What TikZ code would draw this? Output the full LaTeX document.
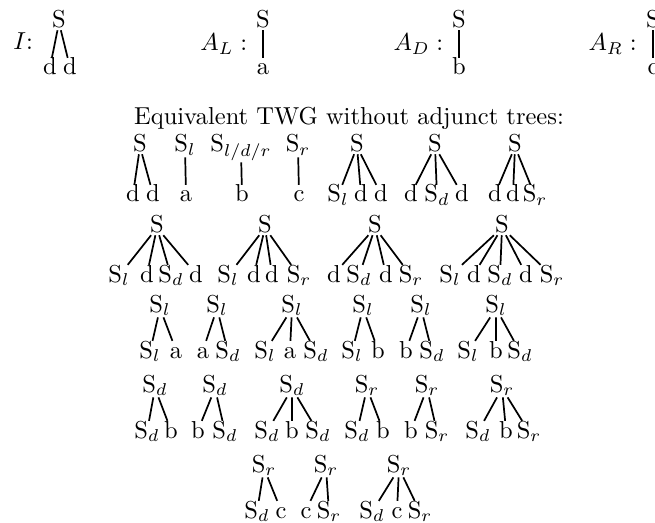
\documentclass[tikz,border=0pt]{standalone}
\begin{document}
\begin{tikzpicture}[x=0.408pt,y=-0.408pt,
  rt/.style={inner xsep=0.5pt,inner ysep=0.5pt,text height=4.5pt,anchor=base},
  tn/.style={inner xsep=0.5pt,inner ysep=0.3pt,text height=6.5pt,anchor=base},
  lab/.style={inner sep=0pt,anchor=base west},
  edge/.style={line width=0.7pt}]
\useasboundingbox (0,0) rectangle (655,522);
% top row: elementary trees
\node[lab] (labI) at (13,50) {$I$:};
\node[rt] (i0) at (59,28) {S};
\node[tn] (i1) at (50,75) {d};
\node[tn] (i2) at (70,75) {d};
\draw[edge] (i0) -- (i1) (i0) -- (i2);
\node[lab] (labAL) at (200,51) {$A_L:$};
\node[rt] (al0) at (263,28) {S};
\node[tn] (al1) at (263,75) {a};
\draw[edge] (al0) -- (al1);
\node[lab] (labAD) at (393,51) {$A_D:$};
\node[rt] (ad0) at (459,28) {S};
\node[tn] (ad1) at (459,75) {b};
\draw[edge] (ad0) -- (ad1);
\node[lab] (labAR) at (588,51) {$A_R:$};
\node[rt] (ar0) at (653,28) {S};
\node[tn] (ar1) at (653,75) {c};
\draw[edge] (ar0) -- (ar1);
% title
\node[anchor=base,inner sep=0pt] (title) at (349,125) {Equivalent TWG without adjunct trees:};
% row 1
\node[rt] (r1a) at (140,152) {S};
\node[tn] (r1a1) at (133,202) {d};
\node[tn] (r1a2) at (153,202) {d};
\draw[edge] (r1a) -- (r1a1) (r1a) -- (r1a2);
\node[rt] (r1b) at (185,152) {S$_l$};
\node[tn] (r1b1) at (186,202) {a};
\draw[edge] (r1b) -- (r1b1);
\node[rt] (r1c) at (241,152) {S$_{l/d/r}$};
\node[tn] (r1c1) at (242,202) {b};
\draw[edge] (r1c) -- (r1c1);
\node[rt] (r1d) at (298,152) {S$_r$};
\node[tn] (r1d1) at (299,202) {c};
\draw[edge] (r1d) -- (r1d1);
\node[rt] (r1e) at (357,152) {S};
\node[tn] (r1e1) at (338,202) {S$_l$};
\node[tn] (r1e2) at (361,202) {d};
\node[tn] (r1e3) at (381,202) {d};
\draw[edge] (r1e) -- (r1e1) (r1e) -- (r1e2) (r1e) -- (r1e3);
\node[rt] (r1f) at (435,152) {S};
\node[tn] (r1f1) at (411,202) {d};
\node[tn] (r1f2) at (437,202) {S$_d$};
\node[tn] (r1f3) at (462,202) {d};
\draw[edge] (r1f) -- (r1f1) (r1f) -- (r1f2) (r1f) -- (r1f3);
\node[rt] (r1g) at (515,152) {S};
\node[tn] (r1g1) at (495,202) {d};
\node[tn] (r1g2) at (513,202) {d};
\node[tn] (r1g3) at (535,202) {S$_r$};
\draw[edge] (r1g) -- (r1g1) (r1g) -- (r1g2) (r1g) -- (r1g3);
% row 2
\node[rt] (r2a) at (157,233) {S};
\node[tn] (r2a1) at (119,282) {S$_l$};
\node[tn] (r2a2) at (147,282) {d};
\node[tn] (r2a3) at (171,282) {S$_d$};
\node[tn] (r2a4) at (196,282) {d};
\draw[edge] (r2a) -- (r2a1) (r2a) -- (r2a2) (r2a) -- (r2a3) (r2a) -- (r2a4);
\node[rt] (r2b) at (265,233) {S};
\node[tn] (r2b1) at (228,282) {S$_l$};
\node[tn] (r2b2) at (254,282) {d};
\node[tn] (r2b3) at (272,282) {d};
\node[tn] (r2b4) at (299,282) {S$_r$};
\draw[edge] (r2b) -- (r2b1) (r2b) -- (r2b2) (r2b) -- (r2b3) (r2b) -- (r2b4);
\node[rt] (r2c) at (375,233) {S};
\node[tn] (r2c1) at (334,282) {d};
\node[tn] (r2c2) at (359,282) {S$_d$};
\node[tn] (r2c3) at (386,282) {d};
\node[tn] (r2c4) at (411,282) {S$_r$};
\draw[edge] (r2c) -- (r2c1) (r2c) -- (r2c2) (r2c) -- (r2c3) (r2c) -- (r2c4);
\node[rt] (r2d) at (502,233) {S};
\node[tn] (r2d1) at (450,282) {S$_l$};
\node[tn] (r2d2) at (474,282) {d};
\node[tn] (r2d3) at (500,282) {S$_d$};
\node[tn] (r2d4) at (526,282) {d};
\node[tn] (r2d5) at (552,282) {S$_r$};
\draw[edge] (r2d) -- (r2d1) (r2d) -- (r2d2) (r2d) -- (r2d3) (r2d) -- (r2d4) (r2d) -- (r2d5);
% row 3
\node[rt] (r3a) at (160,312) {S$_l$};
\node[tn] (r3a1) at (150,358) {S$_l$};
\node[tn] (r3a2) at (176,358) {a};
\draw[edge] (r3a) -- (r3a1) (r3a) -- (r3a2);
\node[rt] (r3b) at (217,312) {S$_l$};
\node[tn] (r3b1) at (203,358) {a};
\node[tn] (r3b2) at (228,358) {S$_d$};
\draw[edge] (r3b) -- (r3b1) (r3b) -- (r3b2);
\node[rt] (r3c) at (292,312) {S$_l$};
\node[tn] (r3c1) at (265,358) {S$_l$};
\node[tn] (r3c2) at (290,358) {a};
\node[tn] (r3c3) at (316,358) {S$_d$};
\draw[edge] (r3c) -- (r3c1) (r3c) -- (r3c2) (r3c) -- (r3c3);
\node[rt] (r3d) at (363,312) {S$_l$};
\node[tn] (r3d1) at (352,358) {S$_l$};
\node[tn] (r3d2) at (378,358) {b};
\draw[edge] (r3d) -- (r3d1) (r3d) -- (r3d2);
\node[rt] (r3e) at (421,312) {S$_l$};
\node[tn] (r3e1) at (406,358) {b};
\node[tn] (r3e2) at (432,358) {S$_d$};
\draw[edge] (r3e) -- (r3e1) (r3e) -- (r3e2);
\node[rt] (r3f) at (496,312) {S$_l$};
\node[tn] (r3f1) at (468,358) {S$_l$};
\node[tn] (r3f2) at (496,358) {b};
\node[tn] (r3f3) at (520,358) {S$_d$};
\draw[edge] (r3f) -- (r3f1) (r3f) -- (r3f2) (r3f) -- (r3f3);
% row 4
\node[rt] (r4a) at (155,392) {S$_d$};
\node[tn] (r4a1) at (147,438) {S$_d$};
\node[tn] (r4a2) at (171,438) {b};
\draw[edge] (r4a) -- (r4a1) (r4a) -- (r4a2);
\node[rt] (r4b) at (215,392) {S$_d$};
\node[tn] (r4b1) at (198,438) {b};
\node[tn] (r4b2) at (225,438) {S$_d$};
\draw[edge] (r4b) -- (r4b1) (r4b) -- (r4b2);
\node[rt] (r4c) at (292,392) {S$_d$};
\node[tn] (r4c1) at (267,438) {S$_d$};
\node[tn] (r4c2) at (292,438) {b};
\node[tn] (r4c3) at (318,438) {S$_d$};
\draw[edge] (r4c) -- (r4c1) (r4c) -- (r4c2) (r4c) -- (r4c3);
\node[rt] (r4d) at (367,392) {S$_r$};
\node[tn] (r4d1) at (357,438) {S$_d$};
\node[tn] (r4d2) at (383,438) {b};
\draw[edge] (r4d) -- (r4d1) (r4d) -- (r4d2);
\node[rt] (r4e) at (427,392) {S$_r$};
\node[tn] (r4e1) at (411,438) {b};
\node[tn] (r4e2) at (437,438) {S$_r$};
\draw[edge] (r4e) -- (r4e1) (r4e) -- (r4e2);
\node[rt] (r4f) at (502,392) {S$_r$};
\node[tn] (r4f1) at (478,438) {S$_d$};
\node[tn] (r4f2) at (506,438) {b};
\node[tn] (r4f3) at (529,438) {S$_r$};
\draw[edge] (r4f) -- (r4f1) (r4f) -- (r4f2) (r4f) -- (r4f3);
% row 5
\node[rt] (r5a) at (264,472) {S$_r$};
\node[tn] (r5a1) at (257,518) {S$_d$};
\node[tn] (r5a2) at (281,518) {c};
\draw[edge] (r5a) -- (r5a1) (r5a) -- (r5a2);
\node[rt] (r5b) at (326,472) {S$_r$};
\node[tn] (r5b1) at (306,518) {c};
\node[tn] (r5b2) at (329,518) {S$_r$};
\draw[edge] (r5b) -- (r5b1) (r5b) -- (r5b2);
\node[rt] (r5c) at (399,472) {S$_r$};
\node[tn] (r5c1) at (372,518) {S$_d$};
\node[tn] (r5c2) at (397,518) {c};
\node[tn] (r5c3) at (420,518) {S$_r$};
\draw[edge] (r5c) -- (r5c1) (r5c) -- (r5c2) (r5c) -- (r5c3);
\end{tikzpicture}
\end{document}
